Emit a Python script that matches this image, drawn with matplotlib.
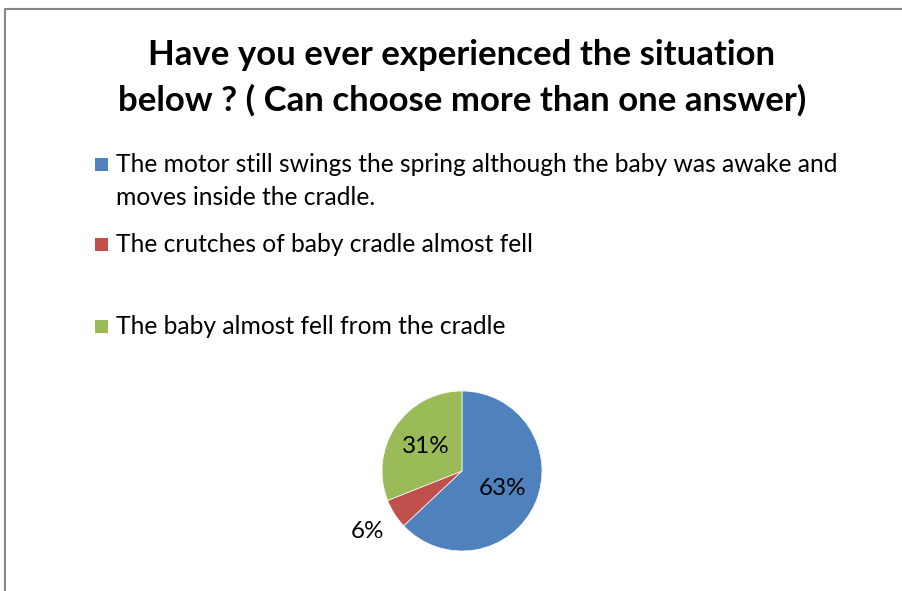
import numpy as np
import matplotlib.pyplot as plt
from matplotlib.patches import Rectangle

plt.rcParams['font.family'] = ['Lato', 'DejaVu Sans']

# survey answers (share of respondents, %)
answers = [
    "The motor still swings the spring although the baby was awake and\nmoves inside the cradle.",
    "The crutches of baby cradle almost fell",
    "The baby almost fell from the cradle",
]
shares = [63, 6, 31]
colors = ["#4F81BD", "#C0504D", "#9BBB59"]
title = "Have you ever experienced the situation\nbelow ? ( Can choose more than one answer)"

W, H = 903, 591
fig = plt.figure(figsize=(W / 100, H / 100), dpi=100)
ax = fig.add_axes([0, 0, 1, 1])
ax.set_xlim(0, W)
ax.set_ylim(0, H)
ax.set_aspect('equal')
ax.axis('off')

# chart frame
ax.plot([5, 5, W + 5], [0, H - 9, H - 9], color="#878787", lw=1.5, solid_capstyle='butt')

for k, line in enumerate(title.split('\n')):
    ax.text(462, H - 55 - k * 45, line, ha='center', va='center', fontsize=25,
            fontweight='bold')

# legend
leg_y = [164, 244, 326]
for y, txt, c in zip(leg_y, answers, colors):
    ax.add_patch(Rectangle((95, H - y - 6.5), 13, 13, color=c, lw=0))
    for k, line in enumerate(txt.split('\n')):
        ax.text(116, H - y - k * 33, line, va='center', ha='left', fontsize=17.7)

# pie
cx, cy, r = 462, H - 471, 80
wedges, _ = ax.pie(shares, colors=colors, startangle=90, counterclock=False,
                   center=(cx, cy), radius=r,
                   wedgeprops=dict(edgecolor='white', linewidth=0.5))
ax.set_xlim(0, W)
ax.set_ylim(0, H)
dists = [0.55, 1.4, 0.55]
for w, s, d in zip(wedges, shares, dists):
    mid = np.deg2rad((w.theta1 + w.theta2) / 2)
    ax.text(cx + d * r * np.cos(mid), cy + d * r * np.sin(mid), f"{s}%",
            ha='center', va='center', fontsize=17.5)

fig.savefig("out.png", dpi=100)
